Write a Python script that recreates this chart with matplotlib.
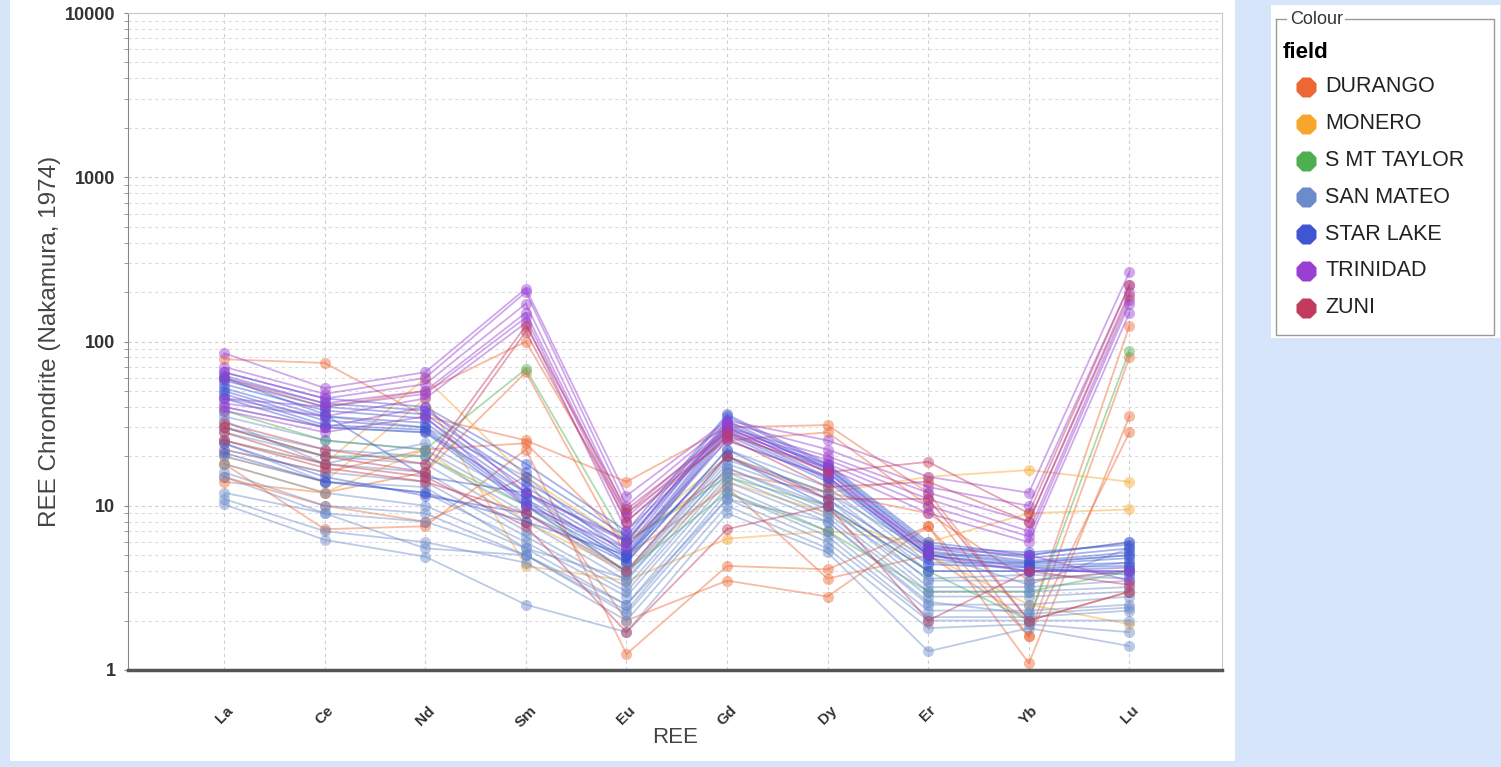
import matplotlib
matplotlib.use("Agg")
import matplotlib.pyplot as plt
from matplotlib.patches import Rectangle

plt.rcParams["font.family"] = ["Liberation Sans", "DejaVu Sans"]

ree = ["La", "Ce", "Nd", "Sm", "Eu", "Gd", "Dy", "Er", "Yb", "Lu"]

fields = ["DURANGO", "MONERO", "S MT TAYLOR", "SAN MATEO", "STAR LAKE", "TRINIDAD", "ZUNI"]
colours = ["#ee6633", "#f7a62b", "#4caf50", "#6b8bcb", "#3f55d2", "#9a3fd2", "#c23a5c"]

durango = [
    [78, 74, 35, 25, 14, 30, 31, 12, 2.0, 125],
    [60, 40, 50, 100, 9, 25, 28, 10, 1.6, 80],
    [18, 7.2, 7.5, 22, 1.25, 4.3, 4.1, 7.5, 1.1, 35],
    [15, 10, 8, 15, 2.0, 3.5, 2.8, 7.5, 1.6, 28],
    [14, 12, 16, 65, 5, 13, 3.6, 5, 2.0, 3.0],
    [22, 16, 22, 24, 6, 16, 12, 9, 3.5, 4.0],
]
monero = [
    [25, 18, 60, 15, 6, 20, 12, 15, 16.5, 14],
    [20, 14, 45, 4.3, 3.5, 6.3, 7, 6, 9, 9.5],
    [18, 12, 22, 8, 4, 14, 9, 5, 2.5, 1.9],
]
s_mt_taylor = [
    [38, 25, 22, 68, 6, 15, 10, 4, 2.0, 88],
    [30, 20, 20, 10, 4, 12, 7, 3, 3.0, 4.0],
]
san_mateo = [
    [45, 35, 30, 15, 5, 25, 15, 5, 5, 6],
    [40, 30, 28, 12, 4.5, 22, 13, 4.5, 4.5, 5],
    [35, 25, 22, 10, 4, 20, 12, 4, 4, 4.5],
    [30, 22, 20, 9, 3.8, 18, 11, 3.5, 3.5, 4],
    [28, 20, 18, 8, 3.5, 17, 10, 3.2, 3.2, 3.5],
    [25, 18, 16, 7, 3.2, 16, 9, 3, 3, 3.2],
    [22, 16, 14, 6.5, 3, 15, 8.5, 2.8, 2.8, 3],
    [20, 14, 12, 6, 2.8, 14, 8, 2.5, 2.5, 2.8],
    [18, 12, 10, 5.5, 2.5, 13, 7, 2.3, 2.3, 2.5],
    [16, 10, 9, 5, 2.3, 12, 6.5, 2.1, 2.1, 2.3],
    [15, 9, 8, 5, 2.2, 11, 6, 2.0, 2.0, 2.0],
    [11, 7, 6, 4.5, 2.0, 10, 5.5, 1.8, 1.9, 1.7],
    [10.2, 6.2, 4.9, 2.5, 1.7, 9, 5.2, 1.3, 1.8, 1.4],
    [24, 14, 13, 5.5, 3.6, 17, 9.5, 3.6, 3.8, 3.6],
    [33, 18, 24, 11, 3.9, 19, 12, 5.2, 3.3, 5.5],
    [12, 9, 5.5, 5, 2.5, 11, 8, 2.6, 2.2, 2.4],
]
star_lake = [
    [65, 45, 40, 18, 7, 36, 18, 6, 5, 6],
    [62, 42, 38, 16, 6.5, 35, 17.5, 5.8, 4.8, 5.5],
    [58, 40, 36, 14, 6, 33, 17, 5.5, 4.6, 5.2],
    [55, 38, 34, 13, 5.5, 32, 16.5, 5.3, 4.5, 5],
    [52, 35, 32, 12, 5.2, 30, 16, 5.2, 4.4, 4.8],
    [50, 33, 30, 11, 5, 29, 15, 5, 4.3, 4.5],
    [48, 31, 29, 10.5, 4.8, 28, 14.5, 5, 4.2, 4.3],
    [45, 30, 28, 10, 4.6, 27, 14, 4.8, 4.0, 4.2],
    [21, 14, 12, 8, 5, 20, 10, 4, 4, 4],
    [24, 15, 11.5, 9, 4.5, 22, 11, 4.4, 4.2, 3.8],
    [60, 36, 15, 12, 6.2, 31, 17, 5.6, 5.2, 5.8],
]
trinidad = [
    [85, 52, 65, 210, 11.5, 33, 25, 15, 12, 265],
    [70, 48, 60, 200, 10, 32, 22, 13, 10, 220],
    [65, 45, 55, 170, 9, 30, 20, 12, 8, 200],
    [60, 42, 50, 150, 8.5, 29, 19, 11, 7, 180],
    [45, 40, 48, 140, 8, 28, 18, 10, 6.5, 170],
    [42, 35, 45, 130, 7, 27, 17, 9, 6, 150],
    [40, 30, 40, 12, 6, 30, 16, 5, 4, 4],
    [38, 28, 35, 10, 5.5, 25, 15, 5.5, 5, 3.5],
]
zuni = [
    [32, 22, 18, 125, 9.5, 28, 16, 18.5, 9, 220],
    [30, 20, 16, 115, 8, 26, 13, 14, 8, 190],
    [28, 18, 15, 7.5, 1.7, 7.2, 10, 2.0, 4, 3.3],
    [25, 17, 14, 9, 4, 20, 11, 11, 2.0, 3.0],
]

groups = [durango, monero, s_mt_taylor, san_mateo, star_lake, trinidad, zuni]

W, H = 1501, 767
fig = plt.figure(figsize=(W / 100, H / 100), dpi=100)
fig.patch.set_facecolor("#d6e5fa")

# white chart panel
fig.add_artist(Rectangle((10 / W, 6 / H), 1225 / W, 761 / H, transform=fig.transFigure,
                         facecolor="white", edgecolor="none", zorder=0))

ax = fig.add_axes([128 / W, 1 - 670 / H, 1094 / W, 657 / H])
ax.set_facecolor("white")
x = list(range(len(ree)))
for samples, col in zip(groups, colours):
    for s in samples:
        ax.plot(x, s, color=col, alpha=0.45, lw=1.3, marker="o", ms=8,
                mec="none", mfc=col, zorder=3)

ax.set_yscale("log")
ax.set_ylim(1, 10000)
ax.set_xlim(-0.955, 9.92)
ax.set_xticks(x)
ax.set_xticklabels(ree, rotation=45, fontsize=11, fontweight="bold", color="#333333")
ax.set_yticks([1, 10, 100, 1000, 10000])
ax.set_yticklabels(["1", "10", "100", "1000", "10000"], fontsize=13,
                   fontweight="bold", color="#333333")
ax.tick_params(axis="x", length=0, pad=24)
ax.tick_params(axis="y", which="both", length=3, color="#888888", pad=6)
ax.grid(True, which="major", axis="both", color="#cfcfcf", ls=(0, (3, 3)), lw=0.8)
ax.grid(True, which="minor", axis="y", color="#dcdcdc", ls=(0, (3, 3)), lw=0.8)
ax.set_axisbelow(True)
for side in ["top", "right"]:
    ax.spines[side].set_color("#c8c8c8")
ax.spines["left"].set_color("#888888")
ax.spines["bottom"].set_color("#555555")
ax.spines["bottom"].set_linewidth(2.5)
ax.set_ylabel("REE Chrondrite (Nakamura, 1974)", fontsize=17.5, color="#444444", labelpad=3)
ax.set_xlabel("REE", fontsize=16, color="#444444", labelpad=-2)

# legend panel
lax = fig.add_axes([1271 / W, 1 - 338 / H, 229 / W, 333 / H])
lax.set_xlim(0, 229)
lax.set_ylim(333, 0)
lax.axis("off")
lax.add_patch(Rectangle((0, 0), 229, 333, facecolor="white", edgecolor="none"))
lax.plot([5, 15], [14, 14], color="#999999", lw=1)
lax.plot([74, 223, 223, 5, 5], [14, 14, 330, 330, 14], color="#999999", lw=1)
lax.text(19, 14, "Colour", fontsize=13, va="center", ha="left", color="#333333")
lax.text(12, 47, "field", fontsize=16, fontweight="bold", va="center", ha="left")
for i, (name, col) in enumerate(zip(fields, colours)):
    yy = 82 + i * 36.8
    lax.plot(35, yy, marker="8", ms=15, color=col, mec="none")
    lax.text(54, yy, name, fontsize=15.5, va="center", ha="left", color="#222222")

fig.savefig("out.png", dpi=100, facecolor=fig.get_facecolor())
